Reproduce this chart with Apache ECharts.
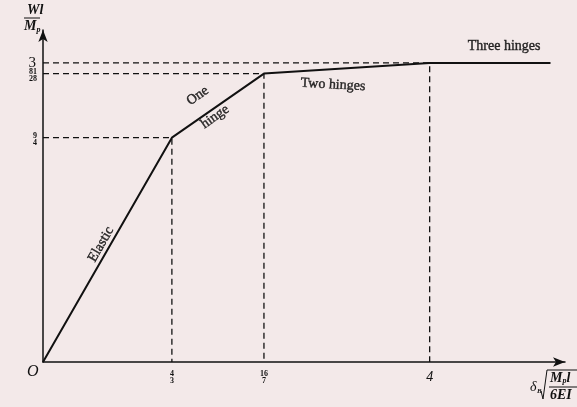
<!DOCTYPE html>
<html>
<head>
<meta charset="utf-8">
<script src="https://cdn.jsdelivr.net/npm/echarts@6/dist/echarts.min.js"></script>
<style>
  html, body { margin: 0; padding: 0; background: #f3e9e9; }
  #chart { width: 577px; height: 407px; }
</style>
</head>
<body>
<div id="chart"></div>
<script>
// Load–deflection curve: breakpoints where successive plastic hinges form
const curveX = [0, 4 / 3, 16 / 7, 4, 5.25];
const curveY = [0, 9 / 4, 81 / 28, 3, 3];

// Hinge-formation points marked with dashed guide lines
const guideX = [4 / 3, 16 / 7, 4];
const guideY = [9 / 4, 81 / 28, 3];

// Tick labels (fractions written as numerator/denominator)
const xTickValues = [4 / 3, 16 / 7, 4];
const xTickLabels = [['4', '3'], ['16', '7'], ['4', null]];
const yFracValues = [9 / 4, 81 / 28];
const yFracLabels = [['9', '4'], ['81', '28']];
const yWholeValues = [3];
const yWholeLabels = ['3'];

// Stage annotations: text, anchor x, anchor y, rotation
const stageText = ['Elastic', 'One', 'hinge', 'Two hinges', 'Three hinges'];
const stageX = [0.6, 1.6, 1.78, 3.0, 4.77];
const stageY = [1.18, 2.67, 2.46, 2.78, 3.17];
const stageRot = [60, 35, 35, -3, 0];

const ink = '#111';
const serif = '"Liberation Serif", "DejaVu Serif", serif';
const yMin = 0, yMax = 3.33;

function fracLabel(parts) {
  if (parts[1] === null) return '{w|' + parts[0] + '}';
  return '{n|' + parts[0] + '}\n{d|' + parts[1] + '}';
}

const curve = curveX.map((x, i) => [x, curveY[i]]);
const guides = guideX.map((x, i) => [[0, guideY[i]], [x, guideY[i]], [x, 0]]);

const fracRich = {
  n: { fontSize: 8, fontWeight: 'bold', lineHeight: 7, fontFamily: serif, color: ink, align: 'center' },
  d: { fontSize: 8, fontWeight: 'bold', lineHeight: 7, fontFamily: serif, color: ink, align: 'center' }
};

const chart = echarts.init(document.getElementById('chart'));
chart.setOption({
  backgroundColor: '#f3e9e9',
  animation: false,
  grid: { left: 43, right: 12, top: 30, bottom: 45 },
  xAxis: {
    type: 'value', min: 0, max: 5.4,
    splitLine: { show: false },
    axisLine: { lineStyle: { color: ink, width: 1.5 }, symbol: ['none', 'arrow'], symbolSize: [7, 12] },
    axisTick: { show: false },
    axisLabel: {
      customValues: xTickValues,
      hideOverlap: false,
      margin: 8,
      fontFamily: serif,
      color: ink,
      formatter: v => {
        const i = xTickValues.findIndex(t => Math.abs(t - v) < 1e-6);
        return i < 0 ? '' : fracLabel(xTickLabels[i]);
      },
      rich: Object.assign({
        w: { fontSize: 14, fontStyle: 'italic', fontFamily: serif, color: ink }
      }, fracRich)
    }
  },
  yAxis: [
    {
      // main load axis with the fractional hinge levels
      type: 'value', min: yMin, max: yMax, position: 'left', offset: 0,
      splitLine: { show: false },
      axisLine: { lineStyle: { color: ink, width: 1.5 }, symbol: ['none', 'arrow'], symbolSize: [7, 12] },
      axisTick: { show: false },
      axisLabel: {
        customValues: yFracValues,
        hideOverlap: false,
        margin: 6,
        padding: [3, 0, 0, 0],
        fontFamily: serif,
        color: ink,
        formatter: v => {
          const i = yFracValues.findIndex(t => Math.abs(t - v) < 1e-6);
          return i < 0 ? '' : fracLabel(yFracLabels[i]);
        },
        rich: fracRich
      }
    },
    {
      // same scale, carries the collapse-load label
      type: 'value', min: yMin, max: yMax, position: 'left', offset: 0,
      splitLine: { show: false },
      axisLine: { show: false },
      axisTick: { show: false },
      axisLabel: {
        customValues: yWholeValues,
        margin: 7,
        padding: [0, 0, 7, 0],
        fontFamily: serif,
        fontSize: 15,
        color: ink,
        formatter: v => {
          const i = yWholeValues.findIndex(t => Math.abs(t - v) < 1e-6);
          return i < 0 ? '' : yWholeLabels[i];
        }
      }
    }
  ],
  series: [
    {
      type: 'line',
      data: curve,
      symbol: 'none',
      lineStyle: { color: ink, width: 2 },
      z: 5
    },
    ...guides.map(g => ({
      type: 'line',
      data: g,
      symbol: 'none',
      lineStyle: { color: ink, width: 1.3, type: [6, 4] },
      z: 3
    })),
    {
      type: 'scatter',
      symbolSize: 0,
      data: stageText.map((t, i) => ({
        value: [stageX[i], stageY[i]],
        label: {
          show: true,
          formatter: t,
          rotate: stageRot[i],
          position: 'inside',
          fontFamily: serif,
          fontSize: 14,
          color: '#000',
          textBorderColor: '#000',
          textBorderWidth: 0.4
        }
      })),
      z: 6
    }
  ],
  graphic: [
    // origin
    { type: 'text', left: 27, top: 364, style: { text: 'O', font: 'italic 16px ' + serif, fill: ink } },
    // vertical axis quantity: Wl / M_p
    {
      type: 'text', left: 24, top: 3,
      style: {
        text: '{a|Wl}\n{b|M}{s|p}',
        fill: ink,
        rich: {
          a: { font: 'italic bold 14px ' + serif, fill: ink, lineHeight: 16, padding: [0, 0, 0, 3] },
          b: { font: 'italic bold 14px ' + serif, fill: ink, lineHeight: 16 },
          s: { font: 'italic bold 8px ' + serif, fill: ink, verticalAlign: 'bottom' }
        }
      }
    },
    { type: 'line', shape: { x1: 24, y1: 18, x2: 40, y2: 18 }, style: { stroke: ink, lineWidth: 1 } },
    // horizontal axis quantity: δ_B √(M_p l / 6EI)
    { type: 'text', left: 530, top: 380, style: { text: 'δ', font: 'italic 14px ' + serif, fill: ink } },
    { type: 'text', left: 537, top: 388, style: { text: 'B', font: 'italic bold 7px ' + serif, fill: ink } },
    { type: 'polyline', shape: { points: [[541, 391], [543, 399], [547, 370], [577, 370]] }, style: { stroke: ink, lineWidth: 1, fill: null } },
    { type: 'text', left: 550, top: 371, style: { text: '{b|M}{s|p}{b|l}', rich: { b: { font: 'italic bold 14px ' + serif, fill: ink }, s: { font: 'italic bold 8px ' + serif, fill: ink, verticalAlign: 'bottom' } } } },
    { type: 'line', shape: { x1: 549, y1: 387, x2: 577, y2: 387 }, style: { stroke: ink, lineWidth: 1 } },
    { type: 'text', left: 550, top: 388, style: { text: '6EI', font: 'italic bold 14px ' + serif, fill: ink } }
  ]
});
</script>
</body>
</html>
